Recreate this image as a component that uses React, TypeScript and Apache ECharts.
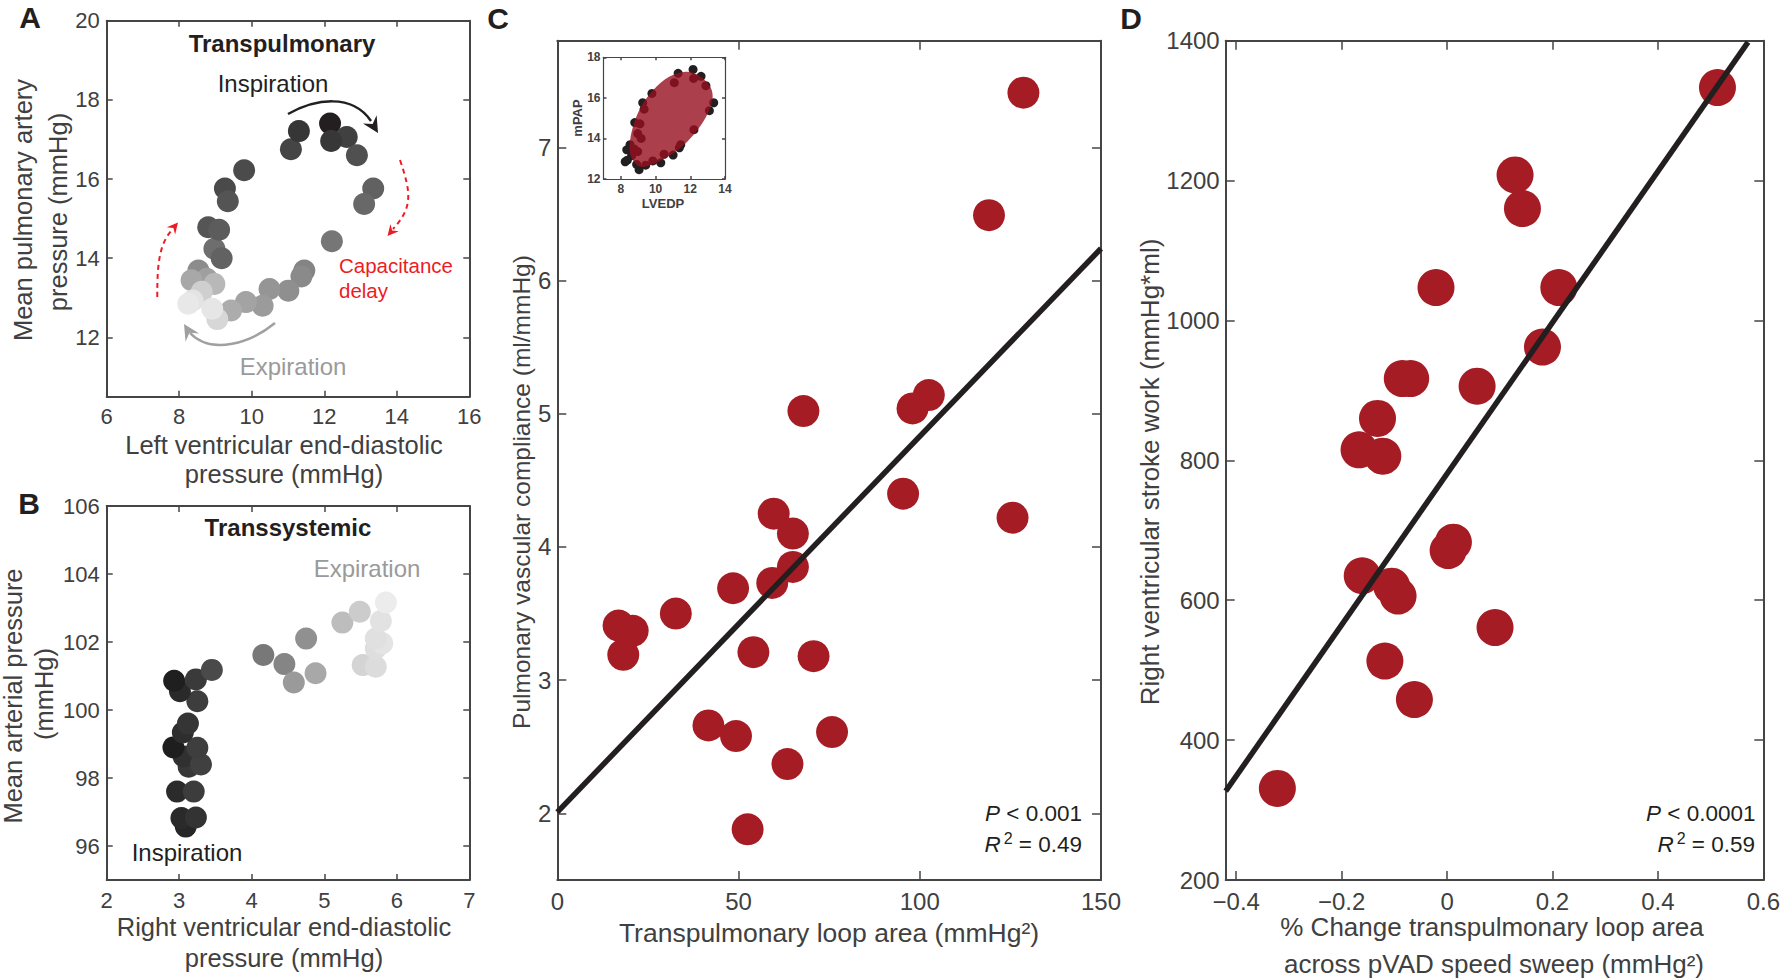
import React, { useEffect, useRef } from "react";
import * as echarts from "echarts";

const FONT = "'Liberation Sans', Arial, Helvetica, sans-serif";
const INK = "#231f20";
const AXC = "#454545";
const LBL = "#404040";
const RED = "#a51c24";
const ANN_RED = "#ed1c24";
const GRAY_TXT = "#9a9a9a";

// ---------- Panel A: transpulmonary loop ----------
const aLvedp = [8.53, 8.97, 9.17, 8.80, 9.10, 9.26, 9.34, 9.79, 11.08, 11.30, 12.16, 12.62, 12.19, 12.90, 13.35, 13.10, 12.21, 11.45, 11.37, 11.01, 10.49, 10.30, 9.84, 9.43, 8.76, 8.34, 8.97, 8.62, 9.05, 8.91, 8.37, 8.25];
const aMpap = [13.69, 14.24, 14.00, 14.78, 14.72, 15.76, 15.44, 16.22, 16.75, 17.21, 17.40, 17.06, 16.96, 16.60, 15.76, 15.37, 14.43, 13.69, 13.54, 13.18, 13.22, 12.80, 12.89, 12.68, 13.48, 13.44, 13.35, 13.15, 12.46, 12.72, 12.93, 12.85];
const aPhaseGray = ["#8c8c8c", "#6e6e6e", "#626262", "#555555", "#5c5c5c", "#4a4a4a", "#545454", "#4b4b4b", "#454545", "#363636", "#231f20", "#404040", "#373737", "#505050", "#616161", "#686868", "#767676", "#848484", "#8a8a8a", "#8f8f8f", "#959595", "#9b9b9b", "#a3a3a3", "#acacac", "#9f9f9f", "#a8a8a8", "#b8b8b8", "#cfcfcf", "#d7d7d7", "#e6e6e6", "#e3e3e3", "#e8e8e8"];
const aXTicks = [6, 8, 10, 12, 14, 16];
const aYTicks = [12, 14, 16, 18, 20];

// ---------- Panel B: transsystemic ----------
const bRvedp = [3.09, 3.03, 3.23, 2.97, 3.20, 3.13, 3.06, 3.30, 3.25, 2.92, 3.05, 3.12, 3.25, 3.01, 2.93, 3.23, 3.45, 4.16, 4.45, 4.75, 4.58, 4.88, 5.25, 5.49, 5.53, 5.71, 5.71, 5.80, 5.71, 5.78, 5.85];
const bMap = [96.57, 96.82, 96.84, 97.60, 97.60, 98.33, 98.63, 98.40, 98.89, 98.90, 99.34, 99.60, 100.26, 100.55, 100.86, 100.90, 101.18, 101.62, 101.35, 102.10, 100.81, 101.08, 102.57, 102.89, 101.32, 101.27, 101.81, 101.96, 102.10, 102.62, 103.16];
const bPhaseGray = ["#262626", "#2a2a2a", "#333333", "#2b2b2b", "#3c3c3c", "#383838", "#303030", "#404040", "#3e3e3e", "#1e1e1e", "#2e2e2e", "#353535", "#3d3d3d", "#2a2a2a", "#1f1f1f", "#3a3a3a", "#4a4a4a", "#787878", "#858585", "#909090", "#9a9a9a", "#a8a8a8", "#bdbdbd", "#cccccc", "#d4d4d4", "#dcdcdc", "#dedede", "#e4e4e4", "#e0e0e0", "#e2e2e2", "#ececec"];
const bXTicks = [2, 3, 4, 5, 6, 7];
const bYTicks = [96, 98, 100, 102, 104, 106];

// ---------- Panel C ----------
const cLoopArea = [128.6, 119.1, 67.9, 98.0, 102.5, 95.4, 59.7, 65.0, 125.6, 65.0, 59.3, 48.5, 32.7, 16.9, 20.8, 18.2, 54.1, 70.7, 41.7, 49.3, 75.8, 63.5, 52.5];
const cCompliance = [7.41, 6.49, 5.02, 5.04, 5.14, 4.40, 4.25, 4.10, 4.22, 3.85, 3.73, 3.69, 3.50, 3.41, 3.37, 3.19, 3.21, 3.18, 2.66, 2.58, 2.61, 2.37, 1.88];
const cFitX = [0, 150];
const cFitY = [2.01, 6.24];
const cXTicks = [0, 50, 100, 150];
const cYTicks = [2, 3, 4, 5, 6, 7];

// inset (loop with shaded area)
const insetHullX = [8.59, 9.17, 10.34, 11.51, 12.68, 13.27, 13.15, 12.45, 11.75, 10.81, 9.87, 9.17, 8.70, 8.52];
const insetHullY = [13.10, 12.60, 12.94, 13.59, 14.74, 15.90, 16.55, 17.13, 17.29, 17.05, 16.39, 15.57, 14.58, 13.76];
const insetXTicks = [8, 10, 12, 14];
const insetYTicks = [12, 14, 16, 18];

// ---------- Panel D ----------
const dLoopChange = [0.513, 0.129, 0.143, -0.021, 0.212, 0.181, -0.085, -0.069, 0.057, -0.132, -0.167, -0.122, 0.012, 0.002, -0.161, -0.105, -0.093, 0.091, -0.118, -0.062, -0.322];
const dStrokeWork = [1333, 1208, 1160, 1047, 1047, 962, 917, 917, 906, 860, 815, 806, 683, 671, 635, 620, 606, 561, 513, 458, 331];
const dFitX = [-0.42, 0.571];
const dFitY = [327, 1398];
const dXTicks = [-0.4, -0.2, 0, 0.2, 0.4, 0.6];
const dYTicks = [200, 400, 600, 800, 1000, 1200, 1400];

type St = { tickLen: number; fontSize: number; mx: number; my: number; lineWidth: number; bold?: boolean; fmt?: (v: number) => string };

const xAxes: any[] = [];
const yAxes: any[] = [];

function axis(gridIndex: number, min: number, max: number, ticks: number[], position: string, showLabels: boolean, st: St, isX: boolean) {
  return {
    type: "value",
    gridIndex,
    min,
    max,
    position,
    axisLine: { show: true, onZero: false, lineStyle: { color: AXC, width: st.lineWidth } },
    axisTick: { show: true, inside: true, length: st.tickLen, customValues: ticks, lineStyle: { color: AXC, width: 1.5 } },
    axisLabel: {
      show: showLabels,
      customValues: ticks,
      margin: isX ? st.mx : st.my,
      fontSize: st.fontSize,
      fontFamily: FONT,
      fontWeight: st.bold ? "bold" : "normal",
      color: LBL,
      formatter: st.fmt ? st.fmt : (v: number) => String(v),
    },
    splitLine: { show: false },
  };
}

function addBox(g: number, xr: [number, number], xt: number[], yr: [number, number], yt: number[], st: St) {
  xAxes.push(axis(g, xr[0], xr[1], xt, "bottom", true, st, true));
  xAxes.push(axis(g, xr[0], xr[1], xt, "top", false, st, true));
  yAxes.push(axis(g, yr[0], yr[1], yt, "left", true, st, false));
  yAxes.push(axis(g, yr[0], yr[1], yt, "right", false, st, false));
}

const stAB: St = { tickLen: 6, fontSize: 22, mx: 9, my: 7, lineWidth: 2 };
const stCD: St = { tickLen: 9, fontSize: 24, mx: 9, my: 6, lineWidth: 2 };
const stIn: St = { tickLen: 3, fontSize: 12, mx: 4, my: 3, lineWidth: 1.2, bold: true };
const stD: St = { ...stCD, fmt: (v: number) => (v < 0 ? "\u2212" + String(Math.abs(v)) : String(v)) };

addBox(0, [6, 16], aXTicks, [10.5, 20], aYTicks, stAB);
addBox(1, [2, 7], bXTicks, [95, 106], bYTicks, stAB);
addBox(2, [0, 150], cXTicks, [1.5, 7.8], cYTicks, stCD);
addBox(3, [7, 14], insetXTicks, [12, 18], insetYTicks, stIn);
addBox(4, [-0.42, 0.6], dXTicks, [200, 1400], dYTicks, stD);

function arrowHead(tx: number, ty: number, fx: number, fy: number, len: number, half: number, color: string) {
  const dx = tx - fx, dy = ty - fy;
  const L = Math.hypot(dx, dy);
  const ux = dx / L, uy = dy / L;
  const nx = -uy, ny = ux;
  const bx = tx - ux * len, by = ty - uy * len;
  const mx = tx - ux * len * 0.65, my = ty - uy * len * 0.65;
  return {
    type: "polygon",
    silent: true,
    shape: { points: [[tx, ty], [bx + nx * half, by + ny * half], [mx, my], [bx - nx * half, by - ny * half]] },
    style: { fill: color },
  };
}

function curve(x1: number, y1: number, c1x: number, c1y: number, c2x: number, c2y: number, x2: number, y2: number, color: string, w: number, dash?: number[]) {
  return {
    type: "bezierCurve",
    silent: true,
    shape: { x1, y1, cpx1: c1x, cpy1: c1y, cpx2: c2x, cpy2: c2y, x2, y2 },
    style: { stroke: color, lineWidth: w, fill: null, lineDash: dash || null },
  };
}

function txt(text: string, x: number, y: number, size: number, opts: any = {}) {
  return {
    type: "text",
    x,
    y,
    rotation: opts.rot ? Math.PI / 2 : 0,
    silent: true,
    z: 50,
    style: {
      text,
      fontSize: size,
      fontFamily: FONT,
      fontWeight: opts.bold ? "bold" : "normal",
      fill: opts.color || INK,
      align: opts.align || "center",
      verticalAlign: "middle",
      rich: opts.rich,
    },
  };
}

const statRich = (size: number) => ({
  i: { fontStyle: "italic", fontSize: size, fontFamily: FONT, fill: INK },
  n: { fontSize: size, fontFamily: FONT, fill: INK },
  s: { fontSize: 16, fontFamily: FONT, fill: INK, padding: [0, 0, 11, 3] },
});

export default function App() {
  const ref = useRef<HTMLDivElement>(null);
  useEffect(() => {
    if (!ref.current) return;
    const chart = echarts.init(ref.current, undefined, { renderer: "svg" });
    const option: any = {
      animation: false,
      backgroundColor: "#ffffff",
      grid: [
        { left: 106.7, top: 20.7, width: 362.6, height: 376 },
        { left: 106.7, top: 506, width: 362.6, height: 374 },
        { left: 557.3, top: 40.7, width: 543.7, height: 839.3 },
        { left: 603.5, top: 57.3, width: 121.5, height: 121.7 },
        { left: 1225.7, top: 40.7, width: 542.1, height: 839.3 },
      ],
      xAxis: xAxes,
      yAxis: yAxes,
      series: [
        {
          type: "scatter",
          xAxisIndex: 0,
          yAxisIndex: 0,
          symbolSize: 22,
          silent: true,
          data: aLvedp.map((x, i) => ({ value: [x, aMpap[i]], itemStyle: { color: aPhaseGray[i], opacity: 1 } })),
        },
        {
          type: "scatter",
          xAxisIndex: 2,
          yAxisIndex: 2,
          symbolSize: 22,
          silent: true,
          data: bRvedp.map((x, i) => ({ value: [x, bMap[i]], itemStyle: { color: bPhaseGray[i], opacity: 1 } })),
        },
        {
          type: "scatter",
          xAxisIndex: 4,
          yAxisIndex: 4,
          symbolSize: 32,
          silent: true,
          itemStyle: { color: RED, opacity: 1 },
          data: cLoopArea.map((x, i) => [x, cCompliance[i]]),
        },
        {
          type: "line",
          xAxisIndex: 4,
          yAxisIndex: 4,
          symbol: "none",
          silent: true,
          lineStyle: { color: INK, width: 5.5 },
          data: cFitX.map((x, i) => [x, cFitY[i]]),
          z: 5,
        },
        {
          type: "scatter",
          xAxisIndex: 6,
          yAxisIndex: 6,
          symbolSize: 9,
          silent: true,
          itemStyle: { color: INK, opacity: 1 },
          data: aLvedp.map((x, i) => [x, aMpap[i]]),
        },
        {
          type: "custom",
          xAxisIndex: 6,
          yAxisIndex: 6,
          silent: true,
          z: 6,
          data: [[insetHullX[0], insetHullY[0]]],
          renderItem: (_p: any, api: any) => ({
            type: "polygon",
            shape: { points: insetHullX.map((x, i) => api.coord([x, insetHullY[i]])), smooth: 0.35 },
            style: { fill: "rgba(150,15,30,0.8)" },
          }),
        },
        {
          type: "scatter",
          xAxisIndex: 8,
          yAxisIndex: 8,
          symbolSize: 37,
          silent: true,
          itemStyle: { color: RED, opacity: 1 },
          data: dLoopChange.map((x, i) => [x, dStrokeWork[i]]),
        },
        {
          type: "line",
          xAxisIndex: 8,
          yAxisIndex: 8,
          symbol: "none",
          silent: true,
          lineStyle: { color: INK, width: 5.5 },
          data: dFitX.map((x, i) => [x, dFitY[i]]),
          z: 5,
        },
      ],
      graphic: [
        // panel letters
        txt("A", 30, 17, 30, { bold: true }),
        txt("B", 29, 503, 30, { bold: true }),
        txt("C", 498, 18, 30, { bold: true }),
        txt("D", 1131, 18, 30, { bold: true }),
        // Panel A annotations
        txt("Transpulmonary", 282, 43.5, 24, { bold: true }),
        txt("Inspiration", 273, 83.5, 24),
        txt("Expiration", 293, 366, 24, { color: GRAY_TXT }),
        txt("Capacitance", 339, 265, 20.5, { color: ANN_RED, align: "left" }),
        txt("delay", 339, 290, 20.5, { color: ANN_RED, align: "left" }),
        curve(288, 114, 315, 99, 352, 93, 371, 121, INK, 2.5),
        arrowHead(378, 133, 369, 118, 16, 8, INK),
        curve(275, 323, 252, 342, 212, 356, 190, 333, "#a0a0a0", 2.5),
        arrowHead(184, 324, 192, 337, 16, 8, "#a0a0a0"),
        curve(157.3, 297, 157, 262, 160, 243, 172, 230, ANN_RED, 2, [5, 4]),
        arrowHead(178, 222.5, 170, 232, 11, 5.5, ANN_RED),
        curve(400, 160, 412, 195, 412, 208, 393, 229, ANN_RED, 2, [5, 4]),
        arrowHead(387.5, 236, 396, 226, 11, 5.5, ANN_RED),
        // Panel A axis titles
        txt("Left ventricular end-diastolic", 284, 445, 25.5, { color: LBL }),
        txt("pressure (mmHg)", 284, 474, 25.5, { color: LBL }),
        txt("Mean pulmonary artery", 23, 210, 25.5, { color: LBL, rot: true }),
        txt("pressure (mmHg)", 58, 212, 25.5, { color: LBL, rot: true }),
        // Panel B annotations
        txt("Transsystemic", 288, 527, 24, { bold: true }),
        txt("Expiration", 367, 568, 24, { color: GRAY_TXT }),
        txt("Inspiration", 187, 852.5, 24),
        txt("Right ventricular end-diastolic", 284, 927, 25.5, { color: LBL }),
        txt("pressure (mmHg)", 284, 958, 25.5, { color: LBL }),
        txt("Mean arterial pressure", 12.5, 696, 25.5, { color: LBL, rot: true }),
        txt("(mmHg)", 43.5, 694, 25.5, { color: LBL, rot: true }),
        // Panel C
        txt("Transpulmonary loop area (mmHg\u00b2)", 829, 933, 26.5, { color: LBL }),
        txt("Pulmonary vascular compliance (ml/mmHg)", 521, 492, 24.5, { color: LBL, rot: true }),
        txt("{i|P}{n| < 0.001}", 1082, 813, 22.5, { align: "right", rich: statRich(22.5) }),
        txt("{i|R}{s|2}{n| = 0.49}", 1082, 844, 22.5, { align: "right", rich: statRich(22.5) }),
        txt("LVEDP", 663, 203, 13, { bold: true, color: LBL }),
        txt("mPAP", 577, 118, 13, { bold: true, color: LBL, rot: true }),
        // Panel D
        txt("% Change transpulmonary loop area", 1492, 927, 26, { color: LBL }),
        txt("across pVAD speed sweep (mmHg\u00b2)", 1494, 964, 26, { color: LBL }),
        txt("Right ventricular stroke work (mmHg*ml)", 1150, 472, 26, { color: LBL, rot: true }),
        txt("{i|P}{n| < 0.0001}", 1755.5, 813, 22.5, { align: "right", rich: statRich(22.5) }),
        txt("{i|R}{s|2}{n| = 0.59}", 1755, 844, 22.5, { align: "right", rich: statRich(22.5) }),
      ],
    };
    chart.setOption(option);
    return () => chart.dispose();
  }, []);
  return (
    <div
      ref={ref}
      style={{ position: "absolute", left: 0, top: 0, width: 1783, height: 978, background: "#fff" }}
    />
  );
}
